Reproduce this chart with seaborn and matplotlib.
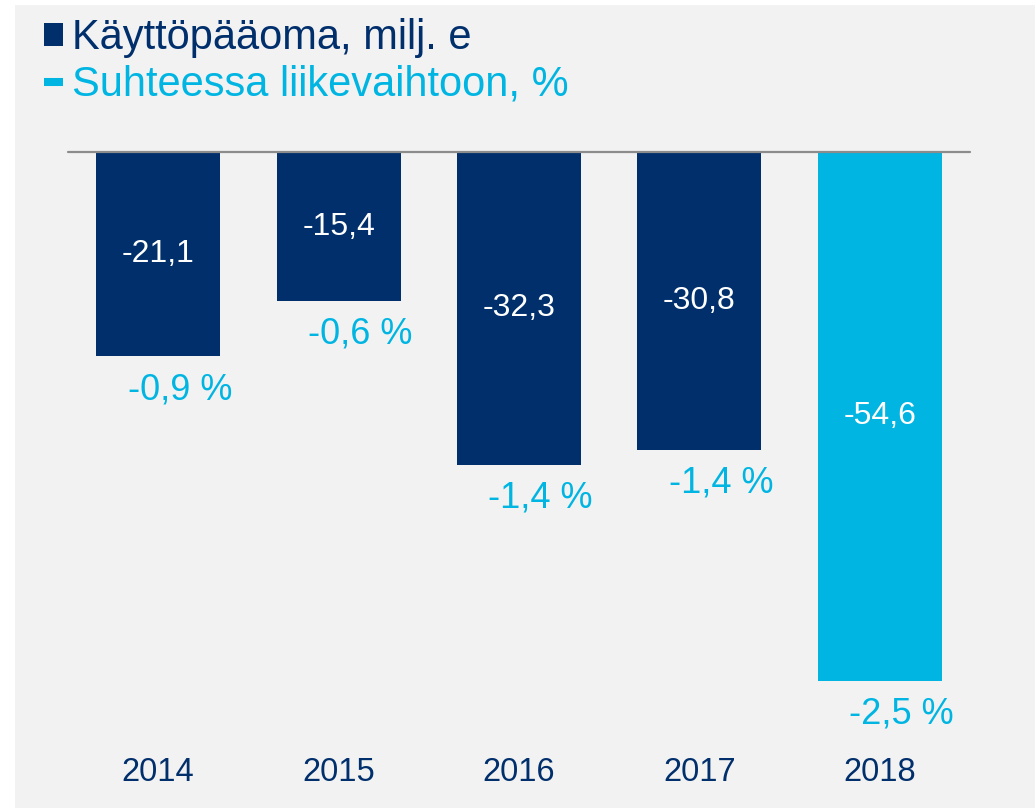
import numpy as np
import pandas as pd
import seaborn as sns
import matplotlib.pyplot as plt
from matplotlib.patches import Patch, Rectangle
from matplotlib.lines import Line2D

years = ['2014', '2015', '2016', '2017', '2018']
capital = [-21.1, -15.4, -32.3, -30.8, -54.6]
pct_labels = ['-0,9 %', '-0,6 %', '-1,4 %', '-1,4 %', '-2,5 %']
value_labels = ['-21,1', '-15,4', '-32,3', '-30,8', '-54,6']

navy = '#002f6c'
cyan = '#00b5e2'
bg = '#f2f2f2'

sns.set_style('white')
plt.rcParams['font.family'] = ['Liberation Sans', 'DejaVu Sans']

fig = plt.figure(figsize=(10.35, 8.08), dpi=100, facecolor='white')
# grey panel behind everything
fig.patches.append(Rectangle((15 / 1035, 0), 1 - 15 / 1035, 1 - 5 / 808,
                             transform=fig.transFigure, facecolor=bg,
                             edgecolor='none', zorder=-10))
ax = fig.add_axes([68 / 1035, 1 - 740 / 808, 902 / 1035, 588 / 808])
ax.set_facecolor('none')

df = pd.DataFrame({'year': years, 'value': capital})
sns.barplot(data=df, x='year', y='value', hue='year',
            palette=[navy, navy, navy, navy, cyan], width=0.687,
            legend=False, ax=ax, saturation=1, linewidth=0)

ax.set_ylim(-60.74, 0)
ax.set_xlim(-0.5, 4.5)
ax.axhline(0, color='#8c8c8c', lw=1.6, clip_on=False)
sns.despine(ax=ax, left=True, bottom=True, top=True, right=True)
ax.set_yticks([])
ax.set(xlabel='', ylabel='')
ax.tick_params(axis='x', length=0, pad=12, labelsize=23.5, labelcolor=navy)

for i, (v, lab, pl) in enumerate(zip(capital, value_labels, pct_labels)):
    ax.text(i, v / 2, lab, ha='center', va='center', color='white', fontsize=23)
    ax.annotate(pl, (i + 0.12, v), xytext=(0, -24), textcoords='offset points',
                ha='center', va='center', color=cyan, fontsize=26)

handles = [Patch(facecolor=navy, edgecolor='none'),
           Line2D([0], [0], color=cyan, lw=5.8, solid_capstyle='butt')]
fig.legend(handles, ['Käyttöpääoma, milj. e', 'Suhteessa liikevaihtoon, %'],
           loc='upper left', bbox_to_anchor=(15 / 1035, 1 + 11 / 808),
           frameon=False, fontsize=30, labelcolor=[navy, cyan],
           handlelength=0.46, handleheight=0.46, handletextpad=0.22,
           labelspacing=0.15, borderpad=0.2)

plt.savefig('out.png', dpi=100, facecolor=fig.get_facecolor())
